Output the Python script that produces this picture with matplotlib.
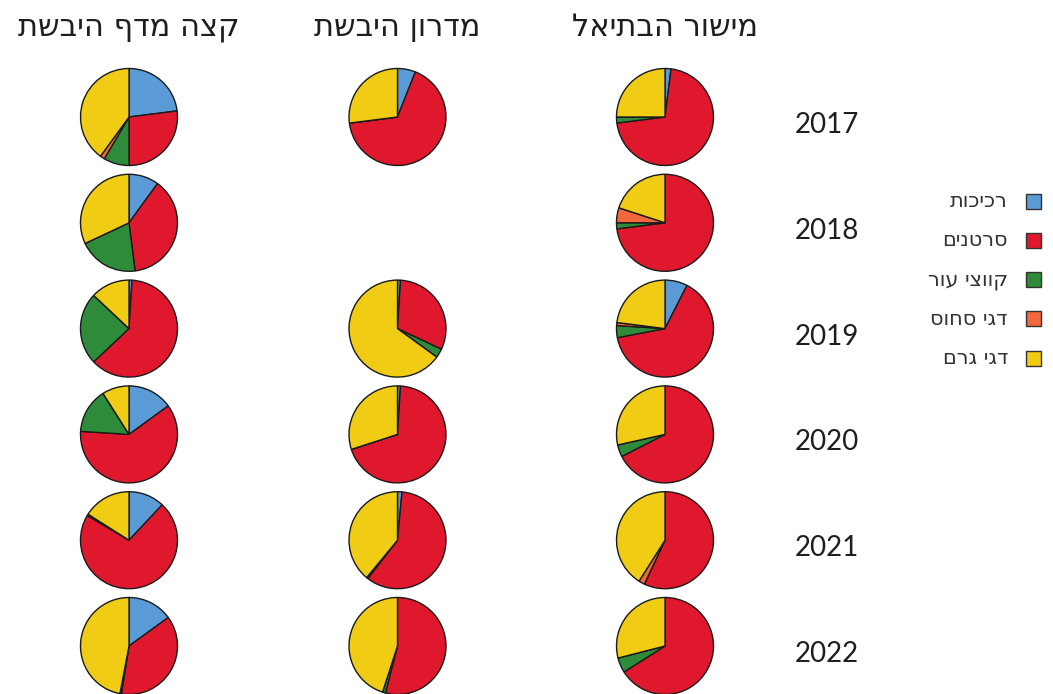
import numpy as np
import matplotlib
matplotlib.use('Agg')
import matplotlib.pyplot as plt
from matplotlib.patches import Rectangle

# אזורים (עמודות) ושנים (שורות)
regions = ['קצה מדף היבשת', 'מדרון היבשת', 'מישור הבתיאל']
years = ['2017', '2018', '2019', '2020', '2021', '2022']
groups = ['רכיכות', 'סרטנים', 'קווצי עור', 'דגי סחוס', 'דגי גרם']
colors = ['#5b9bd5', '#e0182d', '#2e8b3a', '#f2683c', '#f0cc14']

# אחוזים: רכיכות, סרטנים, קווצי עור, דגי סחוס, דגי גרם
shelf_edge = [
    [23, 27, 8.5, 1.5, 40],
    [10, 38, 20, 0, 32],
    [1, 62, 24, 0, 13],
    [15, 61, 15, 0, 9],
    [12, 71.5, 0.5, 0, 16],
    [15, 37.5, 0.5, 0, 47],
]
slope = [
    [6, 67, 0, 0, 27],
    None,
    [1, 31, 3, 0, 65],
    [1, 69, 0, 0, 30],
    [1.5, 59, 0.5, 0, 39],
    [0, 54, 1, 0, 45],
]
abyssal = [
    [2, 71, 2, 0, 25],
    [0, 73, 2, 5, 20],
    [7.5, 64.5, 4, 1, 23],
    [0, 67.5, 4, 0, 28.5],
    [0, 57, 0, 2, 41],
    [0, 66, 5, 0, 29],
]
columns = [shelf_edge, slope, abyssal]

W, H = 1053, 694
HEB = ['DejaVu Sans']
NUM = ['Lato', 'DejaVu Sans']


def heb(s):
    # matplotlib אינו מטפל בכיווניות - הופכים לסדר חזותי
    return s[::-1]


fig = plt.figure(figsize=(W / 100, H / 100), dpi=100)
ax = fig.add_axes([0, 0, 1, 1])

col_x = [129, 397.5, 665]
row_y0, row_dy = 117, 105.8
radius = 48.5

for ci, col in enumerate(columns):
    ax.text(col_x[ci], H - 27, heb(regions[ci]), ha='center', va='center',
            fontsize=22, family=HEB, color='#1e1e1e')
    for ri, vals in enumerate(col):
        if vals is None:
            continue
        cy = H - (row_y0 + ri * row_dy)
        ax.pie(vals, colors=colors, startangle=90, counterclock=False,
               center=(col_x[ci], cy), radius=radius, frame=True,
               wedgeprops=dict(edgecolor='#1a1a1a', linewidth=1.0))

ax.set_xlim(0, W)
ax.set_ylim(0, H)
ax.set_aspect('equal')
ax.axis('off')

for ri, yr in enumerate(years):
    cy = H - (row_y0 + ri * row_dy + 8)
    ax.text(827, cy, yr, ha='center', va='center', fontsize=20,
            family=NUM, color='#1e1e1e')

# מקרא
leg_y0, leg_dy = 201, 39.3
for gi, g in enumerate(groups):
    cy = H - (leg_y0 + gi * leg_dy)
    ax.add_patch(Rectangle((1026, cy - 7.5), 15, 15, facecolor=colors[gi],
                           edgecolor='#333333', linewidth=1.0))
    ax.text(1008, cy, heb(g), ha='right', va='center', fontsize=15,
            family=HEB, color='#333333')

fig.savefig('out.png', dpi=100, facecolor='white')
